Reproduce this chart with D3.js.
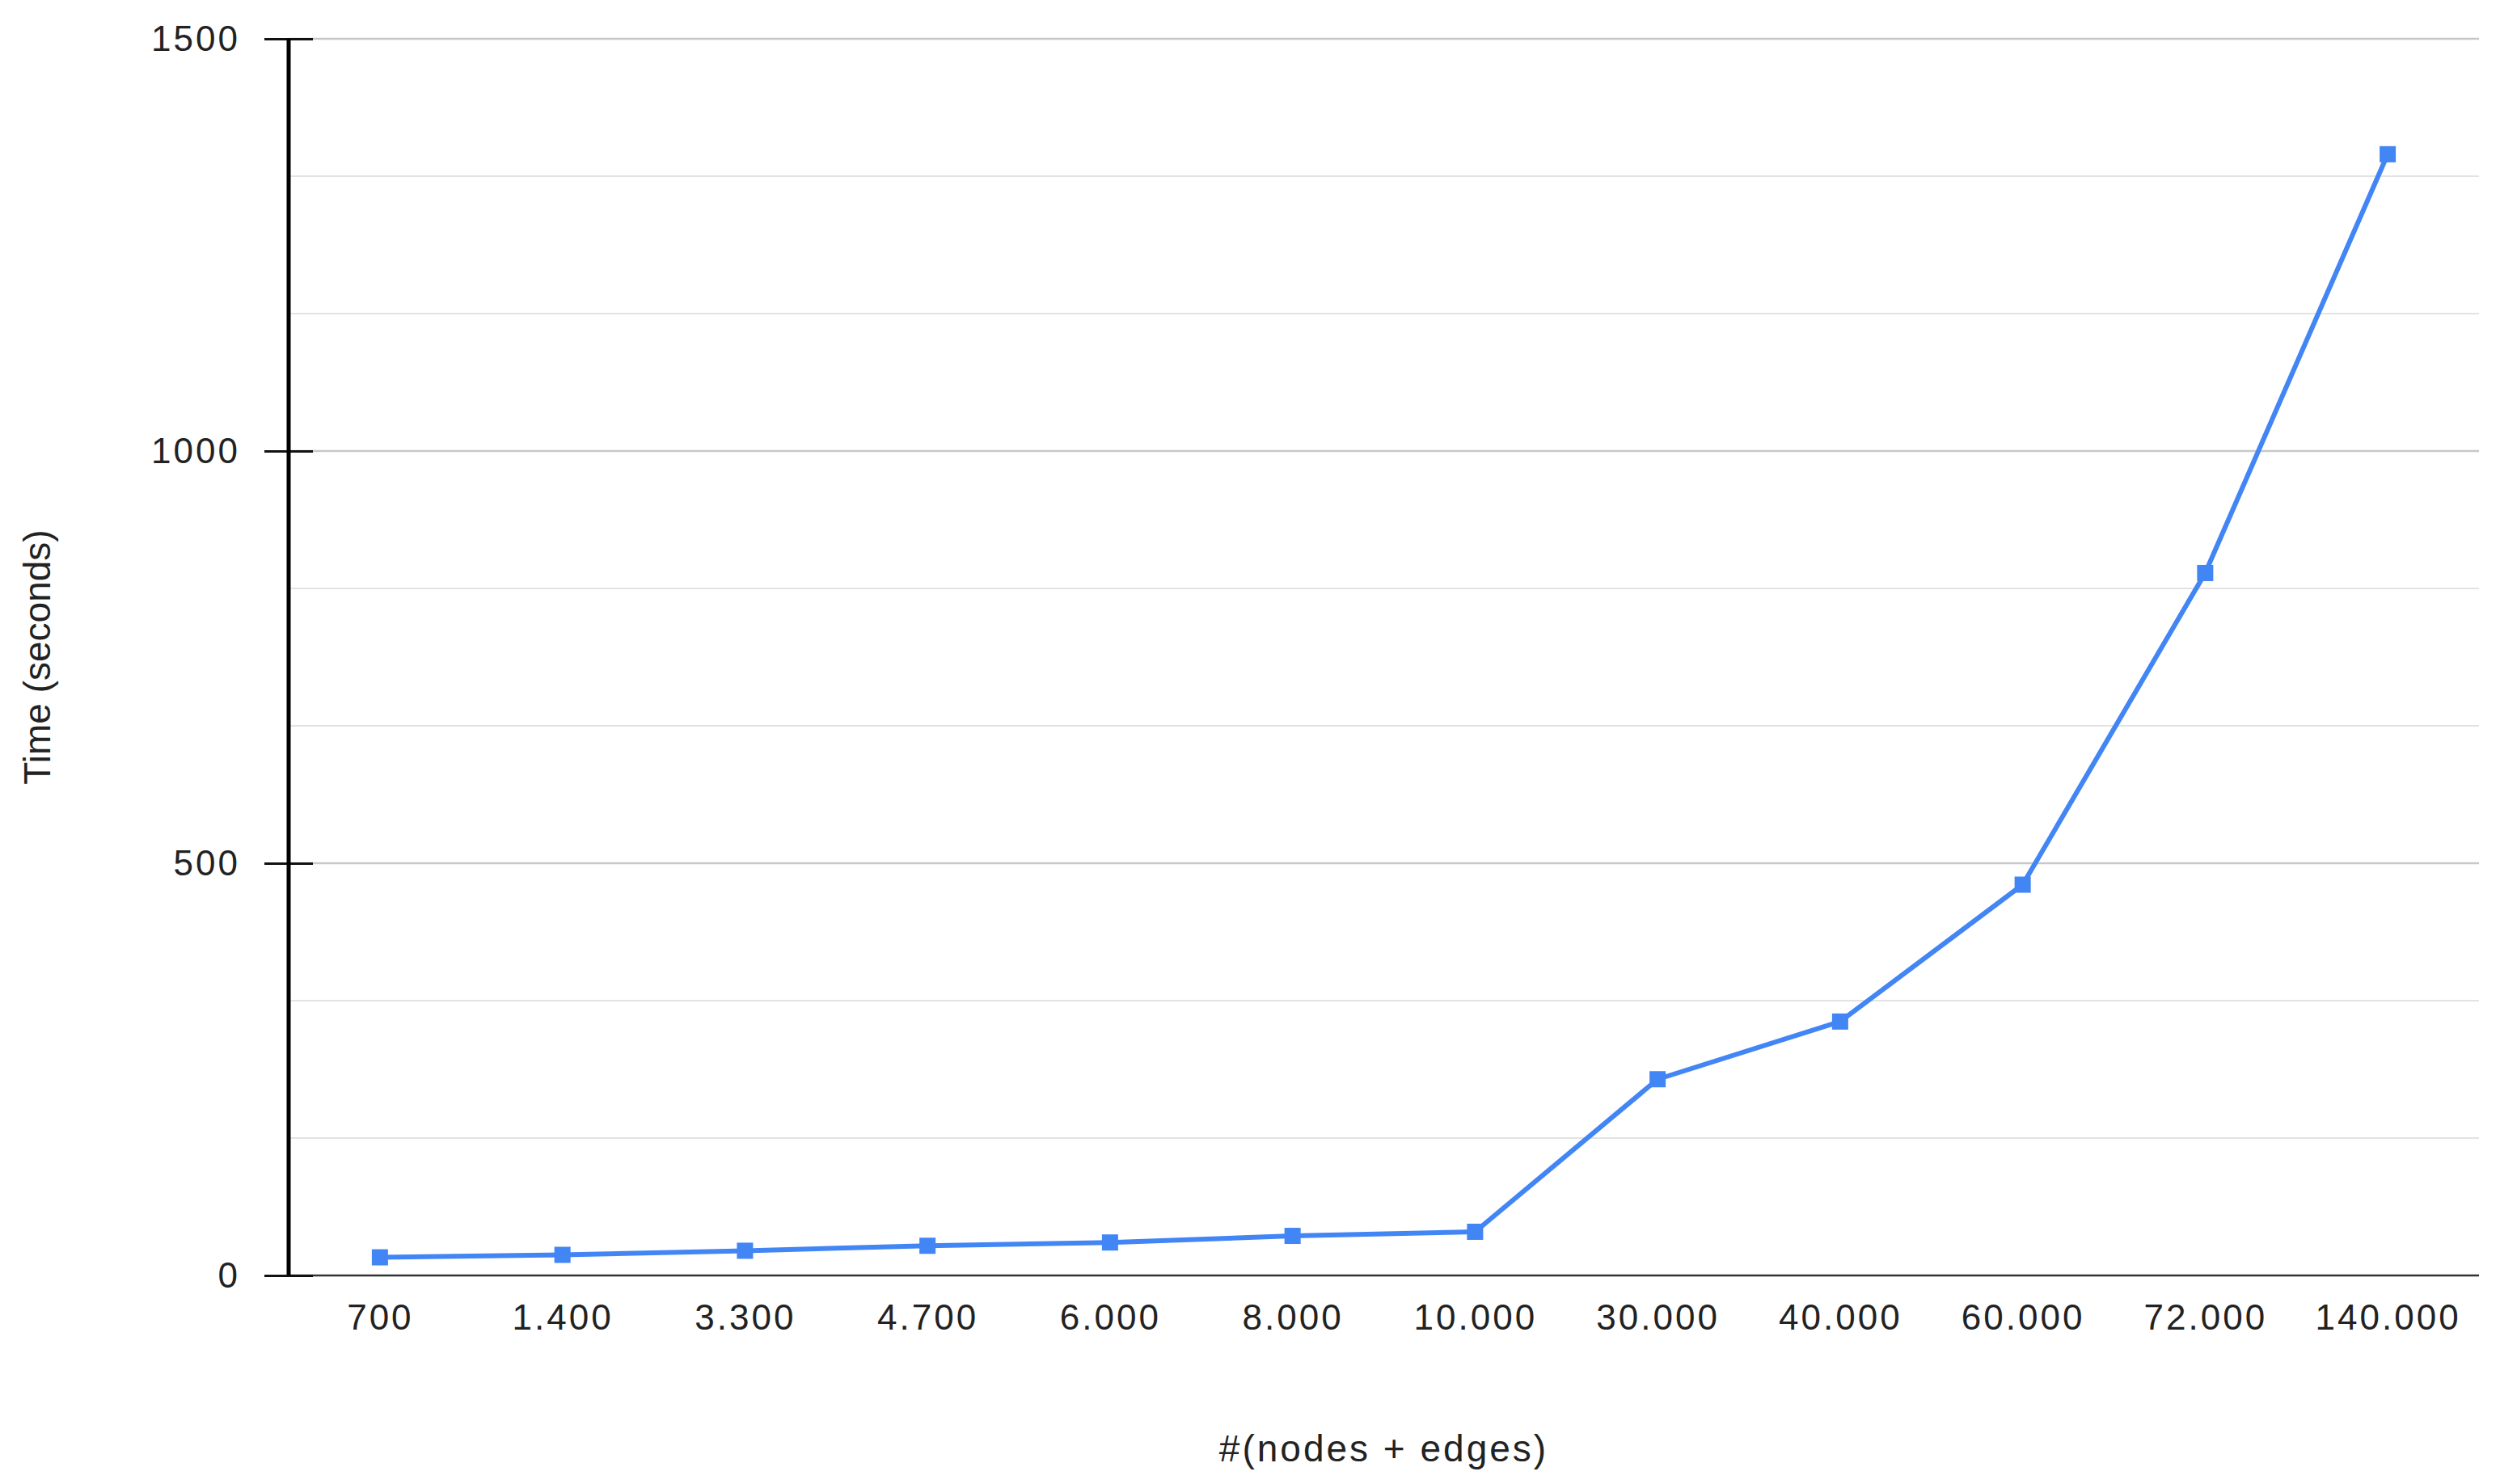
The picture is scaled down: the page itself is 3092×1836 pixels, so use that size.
<!DOCTYPE html>
<html lang="en">
<head>
<meta charset="utf-8">
<title>Time vs graph size</title>
<script src="https://cdn.jsdelivr.net/npm/d3@7"></script>
<style>
  body { margin: 0; background: #fff; }
  text { font-family: "Liberation Sans", Arial, sans-serif; fill: #222; }
</style>
</head>
<body>
<svg id="chart" width="3092" height="1836"></svg>
<script>
// data
var sizes = ["700", "1.400", "3.300", "4.700", "6.000", "8.000", "10.000", "30.000", "40.000", "60.000", "72.000", "140.000"]
var times = [22, 25, 30, 36, 40, 48, 53, 238, 308, 474, 852, 1360]
var majorTicks = [0, 500, 1000, 1500]
var minorTicks = [166.67, 333.33, 666.67, 833.33, 1166.67, 1333.33]

var svg = d3.select("#chart")
var mLeft = 357, mRight = 3066, mTop = 48, mBottom = 1578

var x = d3.scalePoint().domain(sizes).range([mLeft, mRight]).padding(0.5)
var y = d3.scaleLinear().domain([0, 1500]).range([mBottom, mTop])

// grid
svg.selectAll(".minor").data(minorTicks).enter().append("line")
    .attr("x1", mLeft).attr("x2", mRight)
    .attr("y1", d => y(d)).attr("y2", d => y(d))
    .attr("stroke", "#e3e3e3").attr("stroke-width", 2)
svg.selectAll(".major").data(majorTicks.slice(1)).enter().append("line")
    .attr("x1", mLeft).attr("x2", mRight)
    .attr("y1", d => y(d)).attr("y2", d => y(d))
    .attr("stroke", "#c8c8c8").attr("stroke-width", 2.5)

// x axis baseline
svg.append("line").attr("x1", mLeft).attr("x2", mRight)
    .attr("y1", mBottom).attr("y2", mBottom)
    .attr("stroke", "#333").attr("stroke-width", 2.5)

// y axis
var yAxis = d3.axisLeft(y).tickValues(majorTicks).tickFormat(d3.format("d")).tickSize(30)
var gy = svg.append("g").attr("transform", "translate(" + mLeft + ",0)").call(yAxis)
gy.select(".domain").remove()
gy.selectAll(".tick line").attr("stroke", "#111").attr("stroke-width", 3).attr("x2", 30).attr("x1", -30)
gy.selectAll(".tick text").attr("x", -60).attr("font-size", 44).attr("letter-spacing", 3).attr("fill", "#222")
svg.append("line").attr("x1", mLeft).attr("x2", mLeft)
    .attr("y1", mTop).attr("y2", mBottom)
    .attr("stroke", "#000").attr("stroke-width", 5)

// x axis labels
var xAxis = d3.axisBottom(x).tickSize(0).tickPadding(36)
var gx = svg.append("g").attr("transform", "translate(0," + mBottom + ")").call(xAxis)
gx.select(".domain").remove()
gx.selectAll(".tick text").attr("font-size", 44).attr("letter-spacing", 3).attr("fill", "#222")

// line + markers
var pts = sizes.map((s, i) => [x(s), y(times[i])])
svg.append("path").attr("d", d3.line()(pts))
    .attr("fill", "none").attr("stroke", "#4285f4").attr("stroke-width", 6)
    .attr("stroke-linejoin", "round")
svg.selectAll(".pt").data(pts).enter().append("rect")
    .attr("x", d => d[0] - 10).attr("y", d => d[1] - 10)
    .attr("width", 20).attr("height", 20).attr("fill", "#4285f4")

// titles
svg.append("text").attr("x", (mLeft + mRight) / 2).attr("y", 1808)
    .attr("text-anchor", "middle").attr("font-size", 46).attr("letter-spacing", 3)
    .text("#(nodes + edges)")
svg.append("text").attr("transform", "translate(62," + (mTop + mBottom) / 2 + ") rotate(-90)")
    .attr("text-anchor", "middle").attr("font-size", 46)
    .text("Time (seconds)")
</script>
</body>
</html>
